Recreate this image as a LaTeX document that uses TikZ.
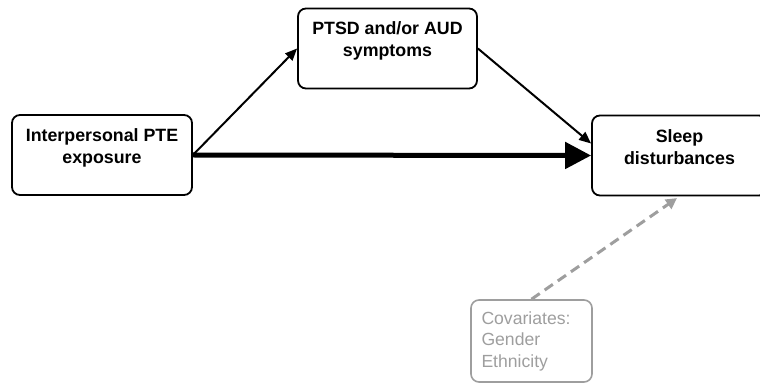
\documentclass[tikz,border=0pt]{standalone}
\usepackage{fontspec}
\setmainfont{Liberation Sans}
\usetikzlibrary{positioning,calc,arrows.meta}
\definecolor{covgray}{gray}{0.62}
\tikzset{
  box/.style={draw, line width=1.8pt, rounded corners=8pt, minimum height=80pt},
  lbl/.style={align=center, font=\fontsize{17.8}{21.5}\selectfont\bfseries},
  covbox/.style={draw=covgray, text=covgray, line width=1.6pt, rounded corners=8pt,
    minimum width=121pt, minimum height=82pt, text width=100pt, align=left,
    font=\fontsize{17.6}{21.5}\selectfont},
}
\begin{document}
\begin{tikzpicture}[x=1pt, y=-1pt]
  \useasboundingbox (0,0) rectangle (760,387);
  % boxes
  \node[box, minimum width=180pt] (pte) at (102,155) {};
  \node[box, minimum width=179pt] (sym) at (387.5,48.5) {};
  \node[box, minimum width=175pt] (sleep) at (679.5,155.5) {};
  \node[lbl] (pteText) at ([yshift=7pt]pte.center) {Interpersonal PTE\\exposure};
  \node[lbl] (symText) at ([yshift=7.5pt]sym.center) {PTSD and/or AUD\\symptoms};
  \node[lbl] (sleepText) at ([yshift=8.5pt]sleep.center) {Sleep\\disturbances};
  \node[covbox] (cov) at (531.5,341) {Covariates:\\Gender\\Ethnicity};

  % paths
  \draw[line width=2pt, -{Triangle[length=12pt,width=10pt]}] (pte.east) -- (sym.west);
  \draw[line width=2pt, -{Triangle[length=12pt,width=10pt]}] (sym.east) -- ([yshift=12pt]sleep.west);
  \draw[line width=5pt, -{Triangle[length=26pt,width=26pt]}] (pte.east) -- (sleep.west);
  \draw[covgray, line width=3pt, dash pattern=on 10pt off 6pt,
    -{Triangle[length=11pt,width=11pt]}, shorten >=3pt] (cov.north) -- (sleep.south);
\end{tikzpicture}
\end{document}
